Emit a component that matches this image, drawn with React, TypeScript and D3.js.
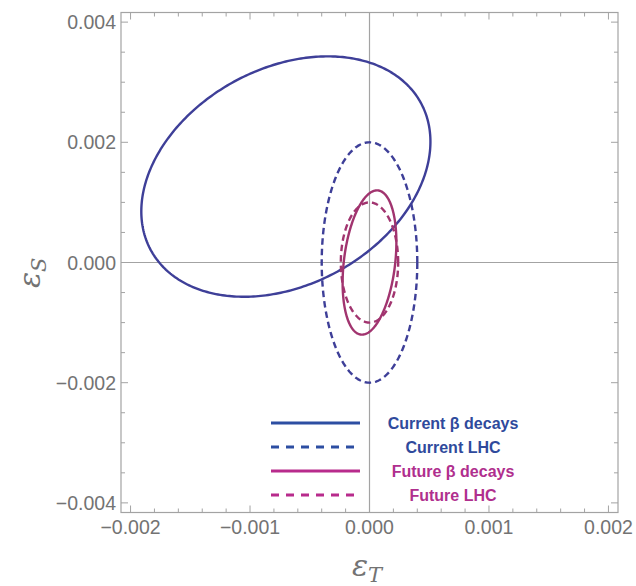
import React from "react";
import * as d3 from "d3";

// ---- data ----
const xDomain = [-0.00208, 0.00208];
const yDomain = [-0.00416, 0.00416];
const xMajorTicks = [-0.002, -0.001, 0, 0.001, 0.002];
const xTickLabels = ["\u22120.002", "\u22120.001", "0.000", "0.001", "0.002"];
const yMajorTicks = [-0.004, -0.002, 0, 0.002, 0.004];
const yTickLabels = ["\u22120.004", "\u22120.002", "0.000", "0.002", "0.004"];
const xMinorStep = 0.0002;
const yMinorStep = 0.0005;

// ellipses: center x, center y, half-width, half-height, correlation
const ellipseNames = ["Current \u03b2 decays", "Current LHC", "Future \u03b2 decays", "Future LHC"];
const ellipseCx = [-0.0007, 0, 0, 0];
const ellipseCy = [0.00143, 0, 0, 0];
const ellipseAx = [0.00121, 0.0004, 0.000225, 0.00024];
const ellipseAy = [0.002, 0.002, 0.0012, 0.001];
const ellipseRho = [0.29, 0, 0.28, 0];
const ellipseDashed = [false, true, false, true];
const ellipseColors = ["#3e3f98", "#3e3f98", "#a1346f", "#a1346f"];
const legendLineColors = ["#2d4ea2", "#2d4ea2", "#b82b8c", "#b82b8c"];
const legendTextColors = ["#2f4a9c", "#2f4a9c", "#b02f8e", "#b02f8e"];

const W = 636;
const H = 586;
const L = 121, R = 618, T = 12.5, B = 512.5;

export default function App() {
  const x = d3.scaleLinear().domain(xDomain).range([L, R]);
  const y = d3.scaleLinear().domain(yDomain).range([B, T]);

  const xMinor = d3.range(-0.002, 0.00201, xMinorStep).map((v) => Math.round(v * 1e5) / 1e5);
  const yMinor = d3.range(-0.004, 0.00401, yMinorStep).map((v) => Math.round(v * 1e5) / 1e5);
  const isMajorX = (v: number) => xMajorTicks.some((m) => Math.abs(m - v) < 1e-9);
  const isMajorY = (v: number) => yMajorTicks.some((m) => Math.abs(m - v) < 1e-9);

  const line = d3
    .line<[number, number]>()
    .x((d) => x(d[0]))
    .y((d) => y(d[1]))
    .curve(d3.curveLinearClosed);

  const ellipsePath = (i: number) => {
    const delta = Math.acos(ellipseRho[i]);
    const pts: [number, number][] = d3.range(0, 360).map((k) => {
      const t = (k / 360) * 2 * Math.PI;
      return [
        ellipseCx[i] + ellipseAx[i] * Math.cos(t),
        ellipseCy[i] + ellipseAy[i] * Math.cos(t - delta),
      ];
    });
    return line(pts) || "";
  };

  const gray = "#a3a3a3";
  const labelColor = "#737373";
  const legendY = [423, 447, 471, 495];

  return (
    <svg
      width={W}
      height={H}
      style={{ position: "absolute", left: 0, top: 0, background: "#fff" }}
      fontFamily="'Liberation Sans', Arial, sans-serif"
    >
      <defs>
        <clipPath id="plotclip">
          <rect x={L} y={T} width={R - L} height={B - T} />
        </clipPath>
      </defs>
      {/* zero axes */}
      <line x1={x(0)} x2={x(0)} y1={T} y2={B} stroke={gray} strokeWidth={1.2} />
      <line x1={L} x2={R} y1={y(0)} y2={y(0)} stroke={gray} strokeWidth={1.2} />

      {/* ellipses */}
      <g clipPath="url(#plotclip)">
        {ellipseNames.map((n, i) => (
          <path
            key={n}
            d={ellipsePath(i)}
            fill="none"
            stroke={ellipseColors[i]}
            strokeWidth={2.4}
            strokeDasharray={ellipseDashed[i] ? "6.5,4" : undefined}
          />
        ))}
      </g>

      {/* frame */}
      <rect x={L} y={T} width={R - L} height={B - T} fill="none" stroke={gray} strokeWidth={1.2} />

      {/* x ticks bottom & top */}
      {xMinor.map((v) => {
        const len = isMajorX(v) ? 7 : 4;
        return (
          <g key={"xt" + v}>
            <line x1={x(v)} x2={x(v)} y1={B} y2={B - len} stroke={gray} strokeWidth={1} />
            <line x1={x(v)} x2={x(v)} y1={T} y2={T + len} stroke={gray} strokeWidth={1} />
          </g>
        );
      })}
      {yMinor.map((v) => {
        const len = isMajorY(v) ? 7 : 4;
        return (
          <g key={"yt" + v}>
            <line x1={L} x2={L + len} y1={y(v)} y2={y(v)} stroke={gray} strokeWidth={1} />
            <line x1={R} x2={R - len} y1={y(v)} y2={y(v)} stroke={gray} strokeWidth={1} />
          </g>
        );
      })}

      {/* tick labels */}
      {xMajorTicks.map((v, i) => (
        <text key={"xl" + v} x={x(v)} y={534} textAnchor="middle" fontSize={19.5} fill={labelColor}>
          {xTickLabels[i]}
        </text>
      ))}
      {yMajorTicks.map((v, i) => (
        <text key={"yl" + v} x={116} y={y(v) + 7} textAnchor="end" fontSize={19.5} fill={labelColor}>
          {yTickLabels[i]}
        </text>
      ))}

      {/* axis titles */}
      <text x={352} y={576} fontSize={30} fill={labelColor} fontFamily="'DejaVu Serif', serif" fontStyle="italic">
        {"\u03b5"}
        <tspan fontSize={21} dy={6}>T</tspan>
      </text>
      <text
        transform="translate(40,288) rotate(-90)"
        fontSize={30}
        fill={labelColor}
        fontFamily="'DejaVu Serif', serif"
        fontStyle="italic"
      >
        {"\u03b5"}
        <tspan fontSize={21} dy={6}>S</tspan>
      </text>

      {/* legend */}
      {ellipseNames.map((n, i) => (
        <g key={"lg" + n}>
          <line
            x1={271}
            x2={360}
            y1={legendY[i]}
            y2={legendY[i]}
            stroke={legendLineColors[i]}
            strokeWidth={3}
            strokeDasharray={ellipseDashed[i] ? "8,7" : undefined}
          />
          <text
            x={453}
            y={legendY[i] + 5.5}
            textAnchor="middle"
            fontSize={16}
            fontWeight="bold"
            fill={legendTextColors[i]}
          >
            {n}
          </text>
        </g>
      ))}
    </svg>
  );
}
